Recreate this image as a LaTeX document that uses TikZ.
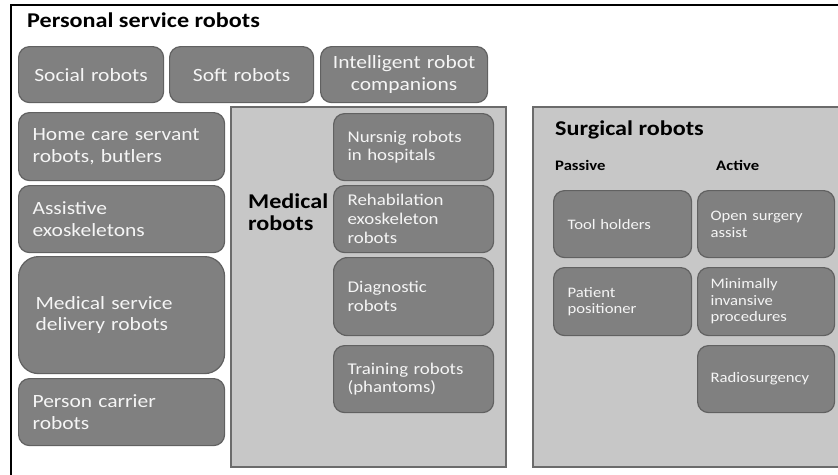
\documentclass[tikz,border=0pt]{standalone}
\usepackage{fontspec}
\setmainfont{Carlito}[FakeStretch=1.15]
\tikzset{
  cell/.style={draw=black!62,fill=black!50,line width=1.2pt,rounded corners=11pt,
    text=black!4,anchor=north west,inner xsep=14pt,inner ysep=0pt,align=left},
  panel/.style={draw=black!58,fill=black!22,line width=1.8pt},
  heading/.style={anchor=base west,inner sep=0pt,font=\bfseries\fontsize{21}{22}\selectfont},
  rowtext/.style={font=\fontsize{18.7}{21.5}\selectfont},
  medtext/.style={font=\fontsize{16.4}{18.8}\selectfont},
  surgtext/.style={font=\fontsize{14.5}{16.5}\selectfont}
}

\begin{document}
\begin{tikzpicture}[x=1pt,y=-1pt]
    \useasboundingbox (0,0) rectangle (838,474);
    % frame and panels
    \draw[line width=1.3pt] (11,480) -- (11,5) -- (845,5);
    \draw[panel] (231,107) rectangle (506,467);
    \draw[panel] (533,107) rectangle (850,467);
    \node[heading,font=\bfseries\fontsize{21}{22}\selectfont] (personal) at (27,27) {Personal service robots};
    % top row
    \node[cell,rowtext,align=center,text width=117pt,minimum height=56pt] (social) at (18,46) {Social robots};
    \node[cell,rowtext,align=center,text width=116pt,minimum height=56pt] (soft) at (169,46) {Soft robots};
    \node[cell,rowtext,align=center,inner xsep=4pt,text width=159pt,minimum height=56pt] (companion) at (320,46) {Intelligent robot\\companions};
    % left column
    \node[cell,rowtext,text width=178pt,minimum height=68pt] (home) at (18,112) {Home care servant\\robots, butlers};
    \node[cell,rowtext,text width=178pt,minimum height=67pt] (assist) at (18,185) {Assistive\\exoskeletons};
    \node[cell,rowtext,text width=172pt,inner xsep=17pt,minimum height=117pt,rounded corners=20pt] (delivery) at (18,256) {Medical service\\delivery robots};
    \node[cell,rowtext,text width=178pt,minimum height=67pt] (carrier) at (18,378) {Person carrier\\robots};
    % medical robots
    \node[heading,anchor=west,align=left,font=\bfseries\fontsize{21}{22}\selectfont] (medical) at (248,212) {Medical\\robots};
    \node[cell,medtext,text width=132pt,minimum height=67pt] (nursing) at (333,113) {Nursnig robots\\in hospitals};
    \node[cell,medtext,text width=132pt,minimum height=67pt] (rehab) at (333,185) {Rehabilation\\exoskeleton\\robots};
    \node[cell,medtext,text width=132pt,minimum height=78pt,rounded corners=14pt] (diagnostic) at (333,257) {Diagnostic\\robots};
    \node[cell,medtext,text width=132pt,minimum height=67pt] (training) at (333,345) {Training robots\\(phantoms)};
    % surgical robots
    \node[heading] (surgical) at (555,135) {Surgical robots};
    \node[heading,font=\bfseries\fontsize{14.5}{16}\selectfont] (passive) at (555,170) {Passive};
    \node[heading,font=\bfseries\fontsize{14.5}{16}\selectfont] (active) at (716,170) {Active};
    \node[cell,surgtext,text width=110pt,minimum height=67pt] (tool) at (553,190) {Tool holders};
    \node[cell,surgtext,text width=111pt,inner xsep=13pt,minimum height=67pt] (open) at (697,190) {Open surgery\\assist};
    \node[cell,surgtext,text width=110pt,minimum height=68pt] (patient) at (553,267) {Patient\\positioner};
    \node[cell,surgtext,text width=111pt,inner xsep=13pt,minimum height=68pt] (minimal) at (697,267) {Minimally\\invansive\\procedures};
    \node[cell,surgtext,text width=111pt,inner xsep=13pt,minimum height=67pt] (radio) at (697,345) {Radiosurgency};
\end{tikzpicture}
\end{document}
